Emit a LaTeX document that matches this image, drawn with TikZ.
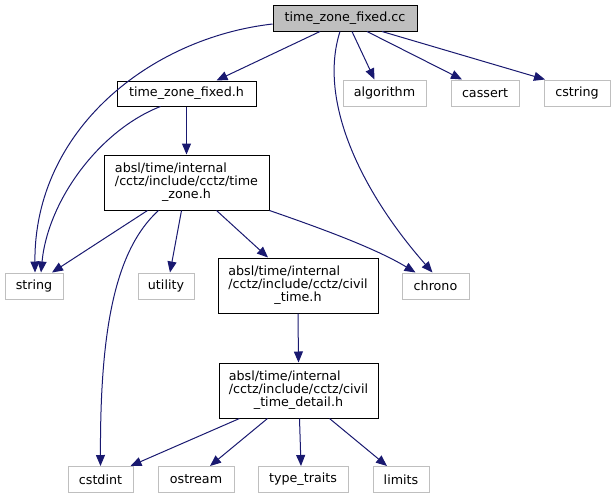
\documentclass[tikz,border=0pt]{standalone}
\usepackage{fontspec}
\setmainfont{DejaVu Sans}
\usetikzlibrary{arrows.meta}
\definecolor{edgec}{HTML}{191970}
\definecolor{leafc}{HTML}{BFBFBF}
\definecolor{rootc}{HTML}{BFBFBF}
\tikzset{
  box/.style={draw=black, line width=1pt, inner sep=0pt, font=\fontsize{12.7}{15}\selectfont},
  leaf/.style={draw=leafc, line width=1pt, inner sep=0pt, minimum height=26pt, font=\fontsize{12.7}{15}\selectfont},
  dep/.style={draw=edgec, line width=1pt, -{Triangle[length=11pt,width=9pt]}, edgec},
}
\newcommand{\threel}[3]{\begin{tabular}{@{}l@{}}#1\\[-2pt]#2\\[-2pt]\multicolumn{1}{@{}c@{}}{#3}\end{tabular}}
\begin{document}
\begin{tikzpicture}[x=1pt,y=-1pt]
\useasboundingbox (0,0) rectangle (615,499);
\node[box, fill=rootc, minimum width=144pt, minimum height=26pt] (cc) at (345,18) {time\_zone\_fixed.cc};
\node[box, minimum width=139pt, minimum height=25pt] (h) at (186.5,93.5) {time\_zone\_fixed.h};
\node[box, minimum width=165pt, minimum height=55pt] (tz) at (186.5,182.5) {\threel{absl/time/internal}{/cctz/include/cctz/time}{\_zone.h}};
\node[box, minimum width=160pt, minimum height=55pt] (civil) at (298,285.5) {\threel{absl/time/internal}{/cctz/include/cctz/civil}{\_time.h}};
\node[box, minimum width=159pt, minimum height=55pt] (detail) at (298.5,390.5) {\threel{absl/time/internal}{/cctz/include/cctz/civil}{\_time\_detail.h}};
\node[leaf, minimum width=58pt] (string) at (34,286) {string};
\node[leaf, minimum width=56pt] (utility) at (166,286) {utility};
\node[leaf, minimum width=67pt] (chrono) at (435.5,286) {chrono};
\node[leaf, minimum width=83pt] (algorithm) at (384.5,93) {algorithm};
\node[leaf, minimum width=68pt] (cassert) at (485,93) {cassert};
\node[leaf, minimum width=66pt] (cstring) at (577,93) {cstring};
\node[leaf, minimum width=65pt] (cstdint) at (100.5,479.5) {cstdint};
\node[leaf, minimum width=76pt] (ostream) at (196,479.5) {ostream};
\node[leaf, minimum width=90pt] (typetraits) at (303,479.5) {type\_traits};
\node[leaf, minimum width=56pt] (limits) at (401,479.5) {limits};

\draw[dep] ([yshift=-6pt]cc.west) .. controls (150,38) and (34,130) .. ([xshift=1pt]string.north);
\draw[dep] ([xshift=-25pt]cc.south) -- ([xshift=30pt]h.north);
\draw[dep] ([xshift=-5pt]cc.south) .. controls (318,100) and (360,190) .. ([xshift=-3pt]chrono.north);
\draw[dep] ([xshift=7pt]cc.south) -- ([xshift=-10pt]algorithm.north);
\draw[dep] ([xshift=22pt]cc.south) -- ([xshift=-23pt]cassert.north);
\draw[dep] ([xshift=37pt]cc.south) -- ([xshift=-32pt]cstring.north);
\draw[dep] ([xshift=-26pt]h.south) .. controls (100,130) and (48,200) .. ([xshift=7pt]string.north);
\draw[dep] (h.south) -- (tz.north);
\draw[dep] ([xshift=-39pt]tz.south) -- ([xshift=18pt]string.north);
\draw[dep] ([xshift=-28pt]tz.south) .. controls (115,250) and (100,330) .. (cstdint.north);
\draw[dep] ([xshift=-5pt]tz.south) -- ([xshift=4pt]utility.north);
\draw[dep] ([xshift=30pt]tz.south) -- ([xshift=-30pt]civil.north);
\draw[dep] (tz.south east) .. controls (320,228) and (375,248) .. ([xshift=-20pt]chrono.north);
\draw[dep] (civil.south) -- (detail.north);
\draw[dep] ([xshift=-59pt]detail.south) -- ([xshift=30pt]cstdint.north);
\draw[dep] ([xshift=-31pt]detail.south) -- ([xshift=14pt]ostream.north);
\draw[dep] ([xshift=1pt]detail.south) -- ([xshift=-2pt]typetraits.north);
\draw[dep] ([xshift=31pt]detail.south) -- ([xshift=-14pt]limits.north);
\end{tikzpicture}
\end{document}
